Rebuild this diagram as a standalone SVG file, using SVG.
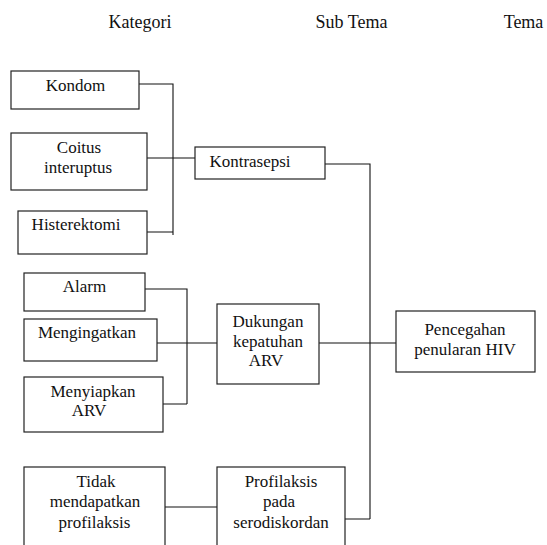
<svg xmlns="http://www.w3.org/2000/svg" width="547" height="545" viewBox="0 0 547 545">
<defs>
<style>
.box{fill:#fff;stroke:#222;stroke-width:1.2}
.ln{fill:none;stroke:#111;stroke-width:1.1}
</style>
</defs>
<rect width="547" height="545" fill="#fff"/>
<g id="headers" fill="#111" text-anchor="middle">
<text x="140" y="28" font-family="Liberation Serif" font-size="18" style="font-family:'Liberation Serif',serif">Kategori</text>
<text x="351.5" y="28" font-family="Liberation Serif" font-size="18" style="font-family:'Liberation Serif',serif">Sub Tema</text>
<text x="523.5" y="28" font-family="Liberation Serif" font-size="18" style="font-family:'Liberation Serif',serif">Tema</text>
</g>
<g id="connectors">
<path class="ln" d="M139,84H173V235M147,158H195M147,232H173"/>
<path class="ln" d="M325,164H370V519M319,343H396M345,519H370"/>
<path class="ln" d="M145,289H187V404M163,404H187M155,343H217"/>
<path class="ln" d="M165,507H217"/>
</g>
<g id="kondom" fill="#111" text-anchor="middle"><rect class="box" x="11" y="71" width="128" height="38"/><text x="75.5" y="91" font-family="Liberation Serif" font-size="17" style="font-family:'Liberation Serif',serif">Kondom</text></g>
<g id="coitus" fill="#111" text-anchor="middle"><rect class="box" x="11" y="133" width="136" height="57"/><text x="79" y="153" font-family="Liberation Serif" font-size="17" style="font-family:'Liberation Serif',serif">Coitus</text><text x="78" y="173" font-family="Liberation Serif" font-size="17" style="font-family:'Liberation Serif',serif">interuptus</text></g>
<g id="histerektomi" fill="#111" text-anchor="middle"><rect class="box" x="18" y="211" width="129" height="43"/><text x="76" y="230" font-family="Liberation Serif" font-size="17" style="font-family:'Liberation Serif',serif">Histerektomi</text></g>
<g id="kontrasepsi" fill="#111" text-anchor="middle"><rect class="box" x="195" y="147" width="130" height="32"/><text x="250" y="167" font-family="Liberation Serif" font-size="17" style="font-family:'Liberation Serif',serif">Kontrasepsi</text></g>
<g id="alarm" fill="#111" text-anchor="middle"><rect class="box" x="24" y="273" width="121" height="38"/><text x="84.5" y="292" font-family="Liberation Serif" font-size="17" style="font-family:'Liberation Serif',serif">Alarm</text></g>
<g id="mengingatkan" fill="#111" text-anchor="middle"><rect class="box" x="24" y="319" width="133" height="42"/><text x="87" y="338" font-family="Liberation Serif" font-size="17" style="font-family:'Liberation Serif',serif">Mengingatkan</text></g>
<g id="menyiapkan" fill="#111" text-anchor="middle"><rect class="box" x="24" y="377" width="139" height="55"/><text x="93" y="397" font-family="Liberation Serif" font-size="17" style="font-family:'Liberation Serif',serif">Menyiapkan</text><text x="89" y="416" font-family="Liberation Serif" font-size="17" style="font-family:'Liberation Serif',serif">ARV</text></g>
<g id="dukungan" fill="#111" text-anchor="middle"><rect class="box" x="217" y="304" width="102" height="80"/><text x="268" y="327" font-family="Liberation Serif" font-size="17" style="font-family:'Liberation Serif',serif">Dukungan</text><text x="268" y="347" font-family="Liberation Serif" font-size="17" style="font-family:'Liberation Serif',serif">kepatuhan</text><text x="266" y="366" font-family="Liberation Serif" font-size="17" style="font-family:'Liberation Serif',serif">ARV</text></g>
<g id="pencegahan" fill="#111" text-anchor="middle"><rect class="box" x="396" y="311" width="139" height="61"/><text x="465" y="335" font-family="Liberation Serif" font-size="17" style="font-family:'Liberation Serif',serif">Pencegahan</text><text x="465" y="355" font-family="Liberation Serif" font-size="17" style="font-family:'Liberation Serif',serif">penularan HIV</text></g>
<g id="tidak" fill="#111" text-anchor="middle"><rect class="box" x="24" y="467" width="141" height="82"/><text x="96" y="487" font-family="Liberation Serif" font-size="17" style="font-family:'Liberation Serif',serif">Tidak</text><text x="95" y="507" font-family="Liberation Serif" font-size="17" style="font-family:'Liberation Serif',serif">mendapatkan</text><text x="94.5" y="528" font-family="Liberation Serif" font-size="17" style="font-family:'Liberation Serif',serif">profilaksis</text></g>
<g id="profilaksis" fill="#111" text-anchor="middle"><rect class="box" x="217" y="467" width="128" height="82"/><text x="281" y="487" font-family="Liberation Serif" font-size="17" style="font-family:'Liberation Serif',serif">Profilaksis</text><text x="279" y="507" font-family="Liberation Serif" font-size="17" style="font-family:'Liberation Serif',serif">pada</text><text x="281" y="528" font-family="Liberation Serif" font-size="17" style="font-family:'Liberation Serif',serif">serodiskordan</text></g>
</svg>
